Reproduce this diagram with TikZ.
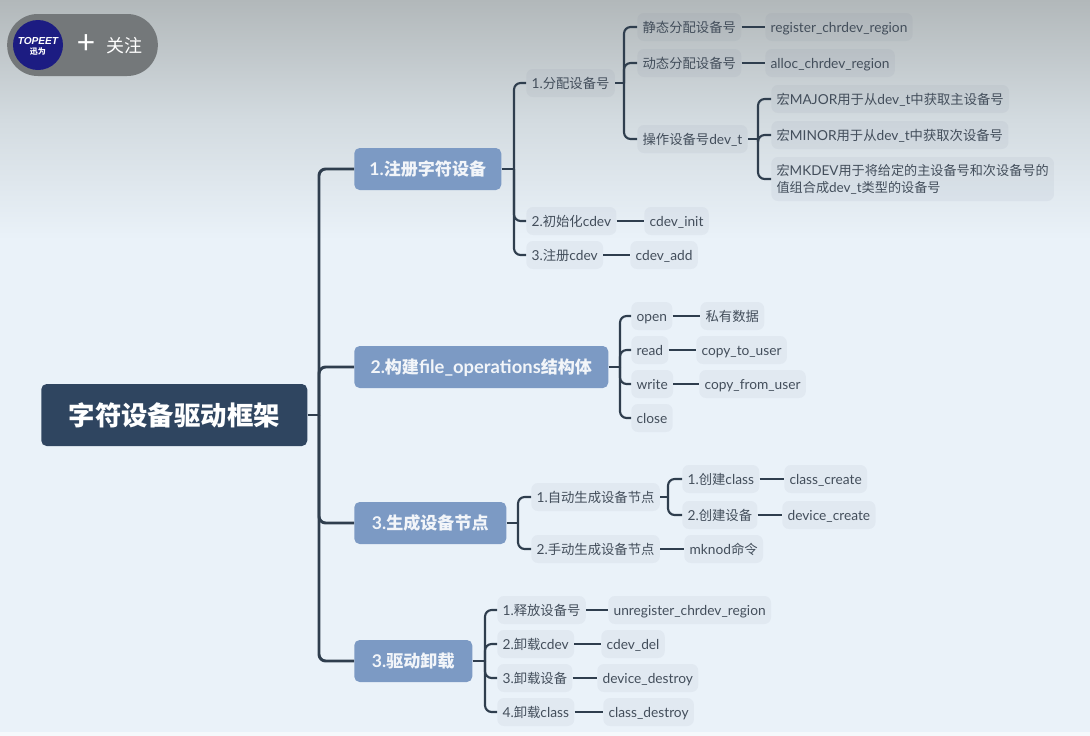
\documentclass[tikz,border=0pt]{standalone}
\usepackage{fontspec}
\setmainfont{Noto Sans CJK SC}
\newfontfamily\logofont{Liberation Sans}
\newfontfamily\latfont{Lato}[Scale=1.03]
\newcommand{\la}[1]{{\latfont #1}}
\usetikzlibrary{shapes}
\definecolor{pageTop}{HTML}{B2B8BA}
\definecolor{pageMid}{HTML}{D3DBE0}
\definecolor{pageLow}{HTML}{EAF2F9}
\definecolor{rootFill}{HTML}{2F4560}
\definecolor{branchFill}{HTML}{7C9AC4}
\definecolor{leafFill}{HTML}{56607E}
\definecolor{leafText}{HTML}{434E5B}
\definecolor{lineDark}{HTML}{2F3E4E}
\definecolor{pillFill}{HTML}{74787A}
\definecolor{badgeFill}{HTML}{1C1C82}
\begin{document}
\begin{tikzpicture}[x = 0.75pt, y = -0.75pt]
\tikzstyle{rootStyle}=[shape = rectangle, rounded corners = 4pt, fill = rootFill, text = white, font = \fontsize{19.8}{23}\selectfont\bfseries, anchor = west, minimum height = 46.5pt, minimum width = 199.5pt, inner sep = 0pt]
\tikzstyle{branchStyle}=[shape = rectangle, rounded corners = 4pt, fill = branchFill, text = white!90!branchFill, font = \fontsize{12.8}{15}\selectfont\bfseries, anchor = west, minimum height = 31.5pt, inner xsep = 0pt, inner ysep = 0pt, text height = 11pt, text depth = 0.6pt]
\tikzstyle{leafStyle}=[shape = rectangle, rounded corners = 5pt, fill = leafFill, fill opacity = 0.06, text opacity = 1, text = leafText, font = \fontsize{10}{12.4}\selectfont, anchor = west, minimum height = 21pt, inner xsep = 4pt, inner ysep = 0pt, align = left, text height = 9pt, text depth = 1.5pt]
\tikzstyle{wordStyle}=[leafStyle, font = \fontsize{10}{12.4}\selectfont\latfont]
\tikzstyle{trunkLine}=[draw = lineDark, line width = 2.2pt, rounded corners = 5pt]
\tikzstyle{twigLine}=[draw = lineDark, line width = 1.6pt, rounded corners = 5pt]
% background
\fill[pageLow] (0,0) rectangle (1090,736);
\shade[top color = pageTop, bottom color = pageMid] (0,0) rectangle (1090,120);
\shade[top color = pageMid, bottom color = pageLow] (0,120) rectangle (1090,240);
\fill[white!50!pageLow] (0,732) rectangle (1090,736);
\useasboundingbox (0,0) rectangle (1090,736);
% logo
\node[shape = rectangle, rounded corners = 23pt, fill = pillFill, minimum width = 113pt, minimum height = 46.5pt, inner sep = 0pt] (pill) at (82.5,45) {};
\node[shape = circle, fill = badgeFill, minimum size = 37.5pt, inner sep = 0pt] (badge) at (38,45) {};
\node[text = white, font = \logofont\fontsize{7.6}{8}\selectfont\bfseries\itshape, inner sep = 0pt] (topeet) at (38,41) {TOPEET};
\node[text = white, font = \fontsize{6}{6}\selectfont\bfseries, inner sep = 0pt] (xunwei) at (38,52) {迅为};
\node[text = white, font = \fontsize{24}{24}\selectfont, inner sep = 0pt] (plus) at (86,45) {+};
\node[text = white, font = \fontsize{13.5}{16}\selectfont, inner sep = 0pt] (follow) at (124,46) {关注};
% main nodes
\node[rootStyle] (root) at (41,415) {字符设备驱动框架};
\node[branchStyle, minimum width = 110.25pt] (b1) at (354,169) {\la{1.}注册字符设备};
\node[branchStyle, minimum width = 190.5pt] (b2) at (354,367) {\la{2.}构建\la{\fontsize{13.4}{15}\selectfont file\_operations}结构体};
\node[branchStyle, minimum width = 114pt] (b3) at (354,523) {\la{3.}生成设备节点};
\node[branchStyle, minimum width = 88.5pt] (b4) at (354,661) {\la{3.}驱动卸载};
% branch 1
\node[leafStyle] (a1) at (526,83) {\la{1.}分配设备号};
\node[leafStyle] (a11) at (637,27) {静态分配设备号};
\node[leafStyle] (a12) at (637,63) {动态分配设备号};
\node[leafStyle] (a13) at (637,139) {操作设备号\la{dev\_t}};
\node[wordStyle] (a11x) at (765,27) {register\_chrdev\_region};
\node[wordStyle] (a12x) at (765,63) {alloc\_chrdev\_region};
\node[leafStyle] (a131) at (771,99) {宏\la{MAJOR}用于从\la{dev\_t}中获取主设备号};
\node[leafStyle] (a132) at (771,135) {宏\la{MINOR}用于从\la{dev\_t}中获取次设备号};
\node[leafStyle, minimum height = 33pt, text height = , text depth = 1pt, font = \fontsize{9.85}{12.4}\selectfont] (a133) at (771,179) {宏\la{MKDEV}用于将给定的主设备号和次设备号的\\值组合成\la{dev\_t}类型的设备号};
\node[leafStyle] (a2) at (526,221) {\la{2.}初始化\la{cdev}};
\node[wordStyle] (a2x) at (644,221) {cdev\_init};
\node[leafStyle] (a3) at (526,255) {\la{3.}注册\la{cdev}};
\node[wordStyle] (a3x) at (630,255) {cdev\_add};
% branch 2
\node[wordStyle] (c1) at (631,316) {open};
\node[leafStyle] (c1x) at (700,316) {私有数据};
\node[wordStyle] (c2) at (631,350) {read};
\node[wordStyle] (c2x) at (696,350) {copy\_to\_user};
\node[wordStyle] (c3) at (631,384) {write};
\node[wordStyle] (c3x) at (699,384) {copy\_from\_user};
\node[wordStyle] (c4) at (631,418) {close};
% branch 3
\node[leafStyle] (d1) at (531,497) {\la{1.}自动生成设备节点};
\node[leafStyle] (d11) at (682,479) {\la{1.}创建\la{class}};
\node[wordStyle] (d11x) at (784,479) {class\_create};
\node[leafStyle] (d12) at (682,515) {\la{2.}创建设备};
\node[wordStyle] (d12x) at (782,515) {device\_create};
\node[leafStyle] (d2) at (531,549) {\la{2.}手动生成设备节点};
\node[leafStyle] (d2x) at (684,549) {\la{mknod}命令};
% branch 4
\node[leafStyle] (e1) at (497,610) {\la{1.}释放设备号};
\node[wordStyle] (e1x) at (608,610) {unregister\_chrdev\_region};
\node[leafStyle] (e2) at (497,644) {\la{2.}卸载\la{cdev}};
\node[wordStyle] (e2x) at (601,644) {cdev\_del};
\node[leafStyle] (e3) at (497,678) {\la{3.}卸载设备};
\node[wordStyle] (e3x) at (597,678) {device\_destroy};
\node[leafStyle] (e4) at (497,712) {\la{4.}卸载\la{class}};
\node[wordStyle] (e4x) at (603,712) {class\_destroy};
% joints
\coordinate (jroot) at (319,415);
\coordinate (jb1) at (514,169);
\coordinate (ja1) at (624,83);
\coordinate (ja13) at (758,139);
\coordinate (jb2) at (620,367);
\coordinate (jb3) at (518,523);
\coordinate (jd1) at (668,497);
\coordinate (jb4) at (485,661);
% edges
\draw[trunkLine] (root.east |- jroot) -- (jroot);
\draw[trunkLine] (jroot) |- (b1.west);
\draw[trunkLine] (jroot) |- (b2.west);
\draw[trunkLine] (jroot) |- (b3.west);
\draw[trunkLine] (jroot) |- (b4.west);
\draw[twigLine] (b1.east) -- (jb1);
\draw[twigLine] (jb1) |- (a1.west);
\draw[twigLine] (jb1) |- (a2.west);
\draw[twigLine] (jb1) |- (a3.west);
\draw[twigLine] (a1.east) -- (ja1);
\draw[twigLine] (ja1) |- (a11.west);
\draw[twigLine] (ja1) |- (a12.west);
\draw[twigLine] (ja1) |- (a13.west);
\draw[twigLine] (a11) -- (a11x);
\draw[twigLine] (a12) -- (a12x);
\draw[twigLine] (a13.east) -- (ja13);
\draw[twigLine] (ja13) |- (a131.west);
\draw[twigLine] (ja13) |- (a132.west);
\draw[twigLine] (ja13) |- (a133.west);
\draw[twigLine] (a2) -- (a2x);
\draw[twigLine] (a3) -- (a3x);
\draw[twigLine] (b2.east) -- (jb2);
\draw[twigLine] (jb2) |- (c1.west);
\draw[twigLine] (jb2) |- (c2.west);
\draw[twigLine] (jb2) |- (c3.west);
\draw[twigLine] (jb2) |- (c4.west);
\draw[twigLine] (c1) -- (c1x);
\draw[twigLine] (c2) -- (c2x);
\draw[twigLine] (c3) -- (c3x);
\draw[twigLine] (b3.east) -- (jb3);
\draw[twigLine] (jb3) |- (d1.west);
\draw[twigLine] (jb3) |- (d2.west);
\draw[twigLine] (d1.east) -- (jd1);
\draw[twigLine] (jd1) |- (d11.west);
\draw[twigLine] (jd1) |- (d12.west);
\draw[twigLine] (d11) -- (d11x);
\draw[twigLine] (d12) -- (d12x);
\draw[twigLine] (d2) -- (d2x);
\draw[twigLine] (b4.east) -- (jb4);
\draw[twigLine] (jb4) |- (e1.west);
\draw[twigLine] (jb4) |- (e2.west);
\draw[twigLine] (jb4) |- (e3.west);
\draw[twigLine] (jb4) |- (e4.west);
\draw[twigLine] (e1) -- (e1x);
\draw[twigLine] (e2) -- (e2x);
\draw[twigLine] (e3) -- (e3x);
\draw[twigLine] (e4) -- (e4x);
\end{tikzpicture}
\end{document}
